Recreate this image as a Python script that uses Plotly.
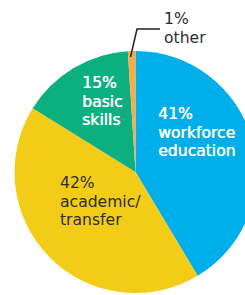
import plotly.graph_objects as go

categories = ["workforce education", "academic/transfer", "basic skills", "other"]
values = [41, 42, 15, 1]
pct_labels = ["41%", "42%", "15%", "1%"]
label_lines = [["workforce", "education"], ["academic/", "transfer"], ["basic", "skills"], ["other"]]
colors = ["#00AEEA", "#F2CC17", "#0CAF80", "#F8AC48"]

W, H = 260, 295
cx, cy, r = 135.5, 172, 121

def px(x):
    return x / W

def py(y):
    return 1 - y / H

fig = go.Figure(go.Pie(
    labels=categories,
    values=values,
    sort=False,
    direction="clockwise",
    rotation=0,
    marker=dict(colors=colors, line=dict(width=0)),
    textinfo="none",
    hoverinfo="none",
    showlegend=False,
    domain=dict(x=[px(cx - r), px(cx + r)], y=[py(cy + r), py(cy - r)]),
))

font = "DejaVu Sans"
FS = 15.6
LINE = 18.5
BASE_FS = LINE / 1.3
# (left x, first baseline, colour, shadow)
label_pos = [(157, 119, "white", "0.5px 0 0 #ffffff"), (59, 188.3, "#2d2d2d", "none"),
             (81, 88.5, "white", "0.5px 0 0 #ffffff"), (163, 24, "#2d2d2d", "none")]
for i, (x, b, c, sh) in enumerate(label_pos):
    lines = [pct_labels[i]] + label_lines[i]
    n = len(lines)
    last = b + (n - 1) * LINE
    center = (b + last) / 2 - 0.33 * FS
    text = "<br>".join(f"<span style='font-size:{FS}px'>{t}</span>" for t in lines)
    fig.add_annotation(
        x=px(x), y=py(center), xref="paper", yref="paper",
        xanchor="left", yanchor="middle", align="left",
        text=text, showarrow=False, xshift=-1,
        font=dict(family=font, size=BASE_FS, color=c, shadow=sh),
    )

fig.add_shape(
    type="path", xref="paper", yref="paper",
    path=f"M {px(130.5)} {py(57)} L {px(137)} {py(29)} L {px(160)} {py(29)}",
    line=dict(color="#222222", width=1.5),
)

fig.update_layout(
    width=W, height=H,
    margin=dict(l=0, r=0, t=0, b=0),
    paper_bgcolor="white",
    plot_bgcolor="white",
)

fig.write_html(
    "out.html",
    config={"displayModeBar": False},
    post_script="document.documentElement.style.overflow='hidden';document.body.style.overflow='hidden';document.body.style.margin='0';",
)
